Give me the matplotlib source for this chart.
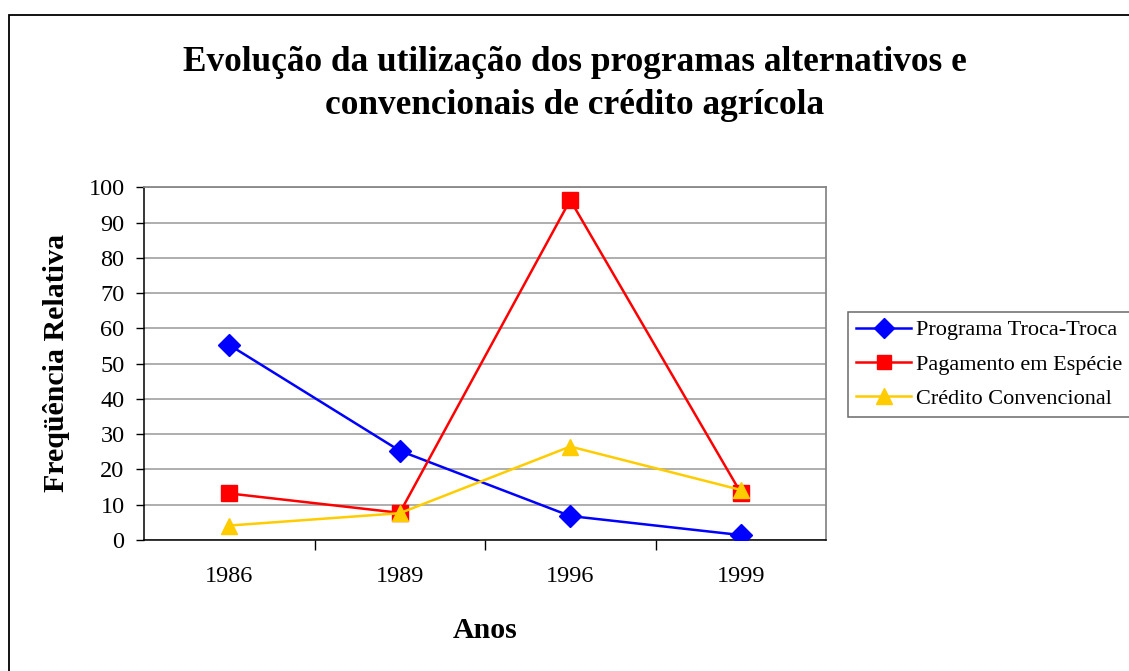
import matplotlib
matplotlib.use("Agg")
import matplotlib.pyplot as plt
from matplotlib.patches import Rectangle

years = ["1986", "1989", "1996", "1999"]
troca = [55.3, 25.3, 6.8, 1.4]
pagamento = [13.2, 7.7, 96.4, 13.4]
credito = [4.1, 7.6, 26.5, 14.2]
series_names = ["Programa Troca-Troca", "Pagamento em Espécie", "Crédito Convencional"]
y_ticks = list(range(0, 101, 10))

W, H = 1129, 671
fig = plt.figure(figsize=(W / 100, H / 100), dpi=100)
plt.rcParams['font.family'] = ['Liberation Serif', 'DejaVu Serif']

# outer chart border
fig.patches.append(Rectangle((8.5 / W, -0.1), 1.2, 1.1 - 14.5 / H,
                             transform=fig.transFigure, fill=False,
                             edgecolor='black', linewidth=1.3))

ax = fig.add_axes([144 / W, 1 - 540 / H, (826 - 144) / W, (540 - 187.3) / H])
x = list(range(len(years)))

ax.plot(x, troca, color='#0000FF', lw=1.8, marker='D', ms=11, mfc='#0000FF', mec='#0000FF',
        label=series_names[0], zorder=3)
ax.plot(x, pagamento, color='#FF0000', lw=1.8, marker='s', ms=11, mfc='#FF0000', mec='#FF0000',
        label=series_names[1], zorder=4)
ax.plot(x, credito, color='#FFCC00', lw=1.8, marker='^', ms=12, mfc='#FFCC00', mec='#FFCC00',
        label=series_names[2], zorder=5)

ax.set_xlim(-0.5, len(years) - 0.5)
ax.set_ylim(0, 100)
ax.set_yticks(y_ticks)
ax.set_yticklabels([str(v) for v in y_ticks], fontsize=17.5)
ax.set_xticks([i + 0.5 for i in range(len(years) - 1)], minor=False)
ax.set_xticklabels([])
ax.set_xticks(x, minor=True)
ax.set_xticklabels(years, minor=True, fontsize=17.5)
ax.tick_params(axis='x', which='minor', length=0, pad=19)
ax.tick_params(axis='x', which='major', direction='out', length=7, width=1, color='black')
ax.tick_params(axis='y', direction='out', length=6, width=1, color='black', pad=8)
ax.grid(axis='y', color='#999999', lw=1.1)
ax.set_axisbelow(True)
for s in ['top', 'right']:
    ax.spines[s].set_color('#888888')
    ax.spines[s].set_linewidth(1.3)
for s in ['left', 'bottom']:
    ax.spines[s].set_color('black')
    ax.spines[s].set_linewidth(1.1)

fig.text(575 / W, 1 - 84 / H, "Evolução da utilização dos programas alternativos e\nconvencionais de crédito agrícola",
         ha='center', va='center', fontsize=25.4, fontweight='bold', linespacing=1.42)
fig.text(57 / W, 1 - 363 / H, "Freqüência Relativa", ha='center', va='center',
         rotation=90, fontsize=21.5, fontweight='bold')
fig.text(485 / W, 1 - 630 / H, "Anos", ha='center', va='center', fontsize=21.5, fontweight='bold')

leg = ax.legend(loc='upper left', bbox_to_anchor=(848 / W, 1 - 312 / H), bbox_transform=fig.transFigure,
                fontsize=16, frameon=True, fancybox=False, edgecolor='#444444',
                handlelength=2.5, handletextpad=0.2, borderpad=0.35, labelspacing=0.62,
                borderaxespad=0, markerscale=0.95)
leg.get_frame().set_linewidth(1.1)

fig.savefig("out.png", dpi=100)
